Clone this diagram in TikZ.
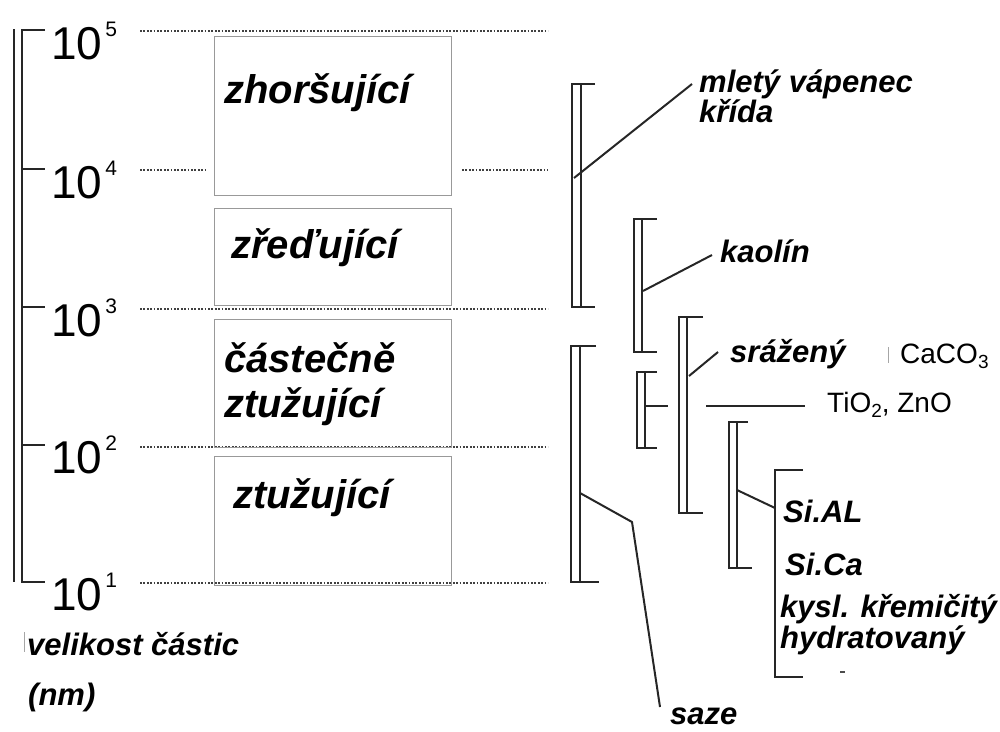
\documentclass[tikz,border=0pt]{standalone}
\usepackage{fontspec}
\setmainfont{Liberation Sans}
\newcommand{\powten}[1]{10\kern3pt\raisebox{23pt}{\fontsize{21}{21}\selectfont #1}}
\begin{document}
\begin{tikzpicture}[x=1pt,y=-1pt,
  axis/.style={line width=2.4pt, black!85},
  brk/.style={line width=2.2pt, black!85, line join=miter},
  lead/.style={line width=2pt, black!85},
  dots/.style={line width=1.9pt, black!75, dash pattern=on 1.8pt off 1.6pt},
  frame/.style={draw=black!40, line width=0.8pt},
  faint/.style={draw=black!35, line width=0.9pt},
  exp/.style={font=\fontsize{46}{46}\selectfont, anchor=base west, inner sep=0pt},
  cls/.style={font=\bfseries\itshape\fontsize{40}{40}\selectfont, anchor=base west, inner sep=0pt},
  lbl/.style={font=\bfseries\itshape\fontsize{31}{31}\selectfont, anchor=base west, inner sep=0pt},
  chem/.style={font=\fontsize{28}{28}\selectfont, anchor=base west, inner sep=0pt}]
\useasboundingbox (0,0) rectangle (1000,731);

% size axis: double rule with ticks
\draw[axis] (14,29) -- (14,582);
\draw[axis] (45,30) -- (22,30) -- (22,582) -- (45,582);
\foreach \y in {169,307,445} \draw[axis] (22,\y) -- (45,\y);

\node[exp] (e5) at (51,59)  {\powten{5}};
\node[exp] (e4) at (51,198) {\powten{4}};
\node[exp] (e3) at (51,336) {\powten{3}};
\node[exp] (e2) at (51,473) {\powten{2}};
\node[exp] (e1) at (51,610) {\powten{1}};

% dotted guide lines
\draw[dots] (140,31) -- (548,31);
\draw[dots] (140,170) -- (205,170);
\draw[dots] (462,170) -- (548,170);
\draw[dots] (140,309) -- (548,309);
\draw[dots] (140,447) -- (548,447);
\draw[dots] (140,583) -- (548,583);

% filler classes
\draw[frame] (214,36) rectangle (451,195);
\draw[frame] (214,208) rectangle (451,305);
\draw[frame] (214,319) rectangle (451,447);
\draw[frame] (214,456) rectangle (451,585);

\node[cls] (zhor) at (224,103) {zhoršující};
\node[cls] (zred) at (231,258) {zřeďující};
\node[cls] (cast) at (224,372) {částečně};
\node[cls] (ztu1) at (224,417) {ztužující};
\node[cls] (ztu2) at (233,508) {ztužující};

% axis caption
\draw[faint] (24,632) -- (24,652);
\node[lbl] (vel) at (27,655) {velikost částic};
\node[lbl] (nm) at (28,705) {(nm)};

% size ranges of the fillers
\draw[brk] (595,84) -- (572,84) -- (572,307) -- (595,307);
\draw[brk] (581,84) -- (581,307);

\draw[brk] (657,219) -- (634,219) -- (634,352) -- (657,352);
\draw[brk] (642,219) -- (642,352);

\draw[brk] (703,317) -- (679,317) -- (679,513) -- (703,513);
\draw[brk] (687,317) -- (687,513);

\draw[brk] (657,372) -- (637,372) -- (637,448) -- (657,448);
\draw[brk] (645,372) -- (645,448);
\draw[brk] (645,406) -- (668,406);

\draw[brk] (748,422) -- (729,422) -- (729,568) -- (752,568);
\draw[brk] (737,422) -- (737,568);

\draw[brk] (803,470) -- (775,470) -- (775,677) -- (803,677);

\draw[brk] (596,346) -- (571,346) -- (571,582) -- (599,582);
\draw[brk] (580,346) -- (580,582);

% labels
\node[lbl] (mlety) at (699,92) {mletý vápenec};
\node[lbl] (krida) at (699,122) {křída};
\node[lbl] (kaol) at (720,262) {kaolín};
\node[lbl] (sraz) at (730,362) {srážený};
\draw[faint] (888,347) -- (888,363);
\node[chem] (caco) at (900,363) {CaCO\raisebox{-5pt}{\fontsize{19}{19}\selectfont 3}};
\node[chem] (tio) at (827,412) {TiO\raisebox{-5pt}{\fontsize{19}{19}\selectfont 2}, ZnO};
\node[lbl] (sial) at (783,522) {Si.AL};
\node[lbl] (sica) at (785,575) {Si.Ca};
\node[lbl] (kysl) at (780,617) {kysl. křemičitý};
\node[lbl] (hydr) at (780,648) {hydratovaný};
\node[lbl] (saze) at (670,724) {saze};
\fill[black!70] (840,670.5) rectangle (845,672.5);

% leader lines
\coordinate (pA) at (574,178);
\coordinate (qA) at (692,84);
\coordinate (pB) at (643,291);
\coordinate (qB) at (712,255);
\coordinate (pC) at (689,376);
\coordinate (qC) at (718,352);
\coordinate (pD) at (706,406);
\coordinate (qD) at (805,406);
\coordinate (pE) at (737,490);
\coordinate (qE) at (775,508);
\coordinate (pG) at (580,493);
\coordinate (kG) at (632,522);
\coordinate (qG) at (660,707);
\draw[lead] (pA) -- (qA);
\draw[lead] (pB) -- (qB);
\draw[lead] (pC) -- (qC);
\draw[lead] (pD) -- (qD);
\draw[lead] (pE) -- (qE);
\draw[lead] (pG) -- (kG) -- (qG);
\end{tikzpicture}
\end{document}
